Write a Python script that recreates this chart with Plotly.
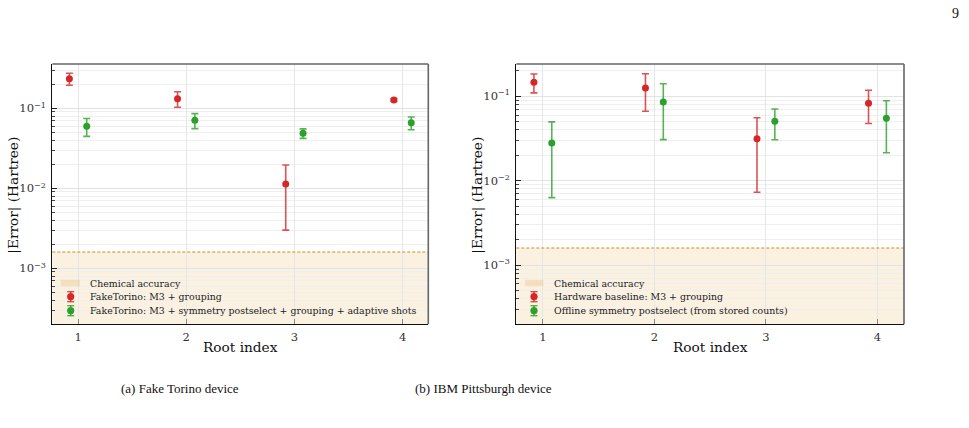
import plotly.graph_objects as go

# ---------------- data ----------------
ROOTS = [1, 2, 3, 4]
OFFSET = 0.08
CHEM_ACC = 1.6e-3

TORINO_BASE_ERR = [0.234, 0.132, 0.0113, 0.127]
TORINO_BASE_STD = [0.040, 0.029, 0.0083, 0.005]
TORINO_SYM_ERR = [0.0596, 0.0708, 0.0487, 0.066]
TORINO_SYM_STD = [0.015, 0.015, 0.0066, 0.012]

PITT_BASE_ERR = [0.1466, 0.1254, 0.0315, 0.0826]
PITT_BASE_STD = [0.037, 0.059, 0.0242, 0.035]
PITT_SYM_ERR = [0.028, 0.0857, 0.0506, 0.0549]
PITT_SYM_STD = [0.0217, 0.055, 0.020, 0.0335]

CHEM_NAME = "Chemical accuracy"
LEFT_NAMES = ["FakeTorino: M3 + grouping",
              "FakeTorino: M3 + symmetry postselect + grouping + adaptive shots"]
RIGHT_NAMES = ["Hardware baseline: M3 + grouping",
               "Offline symmetry postselect (from stored counts)"]
CAPTIONS = ["(a) Fake Torino device", "(b) IBM Pittsburgh device"]
X_TITLE = "Root index"
Y_TITLE = "|Error| (Hartree)"
PAGE_NO = "9"

MAJOR_Y = [1e-3, 1e-2, 1e-1]
MAJOR_Y_TEXT = ["10<sup>−3</sup>", "10<sup>−2</sup>", "10<sup>−1</sup>"]
MINOR_Y = [k * 10.0 ** e for e in range(-4, 1) for k in range(2, 10)]

# ---------------- style ----------------
RED = "#d62728"
GREEN = "#2ca02c"
RED_EB = "rgba(214,39,40,0.8)"
GREEN_EB = "rgba(44,160,44,0.8)"
ORANGE_LINE = "#d08c1c"
FILL = "rgba(230,170,70,0.16)"
PATCH = "rgba(236,190,120,0.35)"
SERIF = "DejaVu Serif"
LEG_SIZE = 9.4

W, H = 969, 428
XR = [0.762, 4.238]
LEFT_DOM = [52.3 / W, 428.3 / W]
RIGHT_DOM = [516.3 / W, 904 / W]
Y_DOM = [1 - 324.3 / H, 1 - 64 / H]
LEFT_YR = [-3.70, -0.446]
RIGHT_YR = [-3.70, -0.618]


def px(x, y):
    return x / W, 1 - y / H


fig = go.Figure()


def add_panel(xa, ya, base_err, base_std, sym_err, sym_std, names):
    for xs_off, vals, std, col, ebc, nm in [
        (-OFFSET, base_err, base_std, RED, RED_EB, names[0]),
        (OFFSET, sym_err, sym_std, GREEN, GREEN_EB, names[1]),
    ]:
        fig.add_trace(go.Scatter(
            x=[r + xs_off for r in ROOTS], y=vals, mode="markers",
            marker=dict(color=col, size=7, symbol="circle"),
            error_y=dict(type="data", array=std, visible=True, color=ebc,
                         thickness=1.6, width=3.5),
            name=nm, xaxis=xa, yaxis=ya, showlegend=False))


add_panel("x", "y", TORINO_BASE_ERR, TORINO_BASE_STD,
          TORINO_SYM_ERR, TORINO_SYM_STD, LEFT_NAMES)
add_panel("x2", "y2", PITT_BASE_ERR, PITT_BASE_STD,
          PITT_SYM_ERR, PITT_SYM_STD, RIGHT_NAMES)


def xaxis(dom, anchor):
    return dict(domain=dom, anchor=anchor, range=XR, tickvals=ROOTS,
                ticktext=[str(r) for r in ROOTS],
                ticks="inside", ticklen=5, tickwidth=1, tickcolor="#888",
                showline=True, linecolor="#111", linewidth=1.3, mirror=False,
                showgrid=True, gridcolor="#e6e6e6", gridwidth=0.8,
                zeroline=False, ticklabelstandoff=2,
                tickfont=dict(family=SERIF, size=11.5, color="#333"))


def yaxis(dom, anchor, yr):
    return dict(domain=dom, anchor=anchor, type="log", range=yr,
                tickvals=MAJOR_Y, ticktext=MAJOR_Y_TEXT,
                ticks="inside", ticklen=5, tickwidth=1, tickcolor="#222",
                showline=True, linecolor="#111", linewidth=1.3, mirror=False,
                showgrid=True, gridcolor="#e3e3e3", gridwidth=0.8,
                zeroline=False, ticklabelstandoff=3,
                minor=dict(tickvals=MINOR_Y, ticks="inside", ticklen=3,
                           tickcolor="#444", showgrid=True,
                           gridcolor="#efefef", gridwidth=0.8),
                tickfont=dict(family=SERIF, size=11.5, color="#333"))


shapes = []
annos = []
for xr, yr in [("x", "y"), ("x2", "y2")]:
    dx = xr + " domain"
    dy = yr + " domain"
    shapes.append(dict(type="rect", xref=dx, yref=yr, x0=0, x1=1,
                       y0=1e-6, y1=CHEM_ACC, fillcolor=FILL,
                       line=dict(width=0), layer="below"))
    shapes.append(dict(type="line", xref=dx, yref=yr, x0=0, x1=1,
                       y0=CHEM_ACC, y1=CHEM_ACC,
                       line=dict(color=ORANGE_LINE, width=1.1, dash="3px,2px"),
                       layer="above"))
    shapes.append(dict(type="line", xref=dx, yref=dy, x0=0, x1=1, y0=1, y1=1,
                       line=dict(color="#666", width=1.6)))
    shapes.append(dict(type="line", xref=dx, yref=dy, x0=1, x1=1, y0=0, y1=1,
                       line=dict(color="#666", width=1.6)))

# ---------------- manual legends (compact like matplotlib) ----------------
ROWS_Y = [283, 296.7, 310.7]
LEGENDS = [
    dict(patch=(60.7, 80.0), mx=70.7, tx=87.7, names=LEFT_NAMES),
    dict(patch=(525.0, 543.3), mx=534.0, tx=551.7, names=RIGHT_NAMES),
]
for lg in LEGENDS:
    x0, y0 = px(lg["patch"][0], ROWS_Y[0] - 3.2)
    x1, y1 = px(lg["patch"][1], ROWS_Y[0] + 3.2)
    shapes.append(dict(type="rect", xref="paper", yref="paper", x0=x0, x1=x1,
                       y0=y1, y1=y0, fillcolor=PATCH, line=dict(width=0)))
    annos.append(dict(text=CHEM_NAME, x=lg["tx"] / W, y=1 - ROWS_Y[0] / H,
                      xref="paper", yref="paper", showarrow=False,
                      xanchor="left", yanchor="middle",
                      font=dict(family=SERIF, size=LEG_SIZE, color="#222")))
    for row, col, ebc, nm in [(ROWS_Y[1], RED, RED_EB, lg["names"][0]),
                              (ROWS_Y[2], GREEN, GREEN_EB, lg["names"][1])]:
        mx = lg["mx"]
        a, b = px(mx, row - 5)
        c, d = px(mx, row + 5)
        shapes.append(dict(type="line", xref="paper", yref="paper",
                           x0=a, x1=c, y0=b, y1=d, line=dict(color=ebc, width=1.6)))
        for cy in (row - 5, row + 5):
            a, b = px(mx - 3.5, cy)
            c, d = px(mx + 3.5, cy)
            shapes.append(dict(type="line", xref="paper", yref="paper",
                               x0=a, x1=c, y0=b, y1=d, line=dict(color=ebc, width=1.4)))
        a, b = px(mx - 3.4, row - 3.4)
        c, d = px(mx + 3.4, row + 3.4)
        shapes.append(dict(type="circle", xref="paper", yref="paper",
                           x0=a, x1=c, y0=d, y1=b, fillcolor=col,
                           line=dict(color=col, width=0.5)))
        annos.append(dict(text=nm, x=lg["tx"] / W, y=1 - row / H,
                          xref="paper", yref="paper", showarrow=False,
                          xanchor="left", yanchor="middle",
                          font=dict(family=SERIF, size=LEG_SIZE, color="#222")))

# ---------------- titles, captions ----------------
for cx in [240.3, 710.2]:
    annos.append(dict(text=X_TITLE, x=cx / W, y=1 - 347.3 / H, xref="paper",
                      yref="paper", showarrow=False, xanchor="center",
                      yanchor="middle", font=dict(family=SERIF, size=13.7, color="#111")))
for cx in [12.7, 476.7]:
    annos.append(dict(text=Y_TITLE, x=cx / W, y=1 - 195 / H,
                      xref="paper", yref="paper", showarrow=False, textangle=-90,
                      xanchor="center", yanchor="middle",
                      font=dict(family=SERIF, size=13.7, color="#111")))
for cx, txt in zip([180, 483], CAPTIONS):
    annos.append(dict(text=txt, x=cx / W, y=1 - 388 / H, xref="paper",
                      yref="paper", showarrow=False, xanchor="center",
                      yanchor="middle",
                      font=dict(family="Liberation Serif", size=13, color="#111")))
annos.append(dict(text=PAGE_NO, x=955 / W, y=1 - 14 / H, xref="paper", yref="paper",
                  showarrow=False, xanchor="center", yanchor="middle",
                  font=dict(family="Liberation Serif", size=14, color="#111")))

fig.update_layout(
    width=W, height=H, margin=dict(l=0, r=0, t=0, b=0),
    paper_bgcolor="white", plot_bgcolor="white",
    showlegend=False,
    xaxis=xaxis(LEFT_DOM, "y"), yaxis=yaxis(Y_DOM, "x", LEFT_YR),
    xaxis2=xaxis(RIGHT_DOM, "y2"), yaxis2=yaxis(Y_DOM, "x2", RIGHT_YR),
    shapes=shapes, annotations=annos,
)

fig.write_html("out.html")
